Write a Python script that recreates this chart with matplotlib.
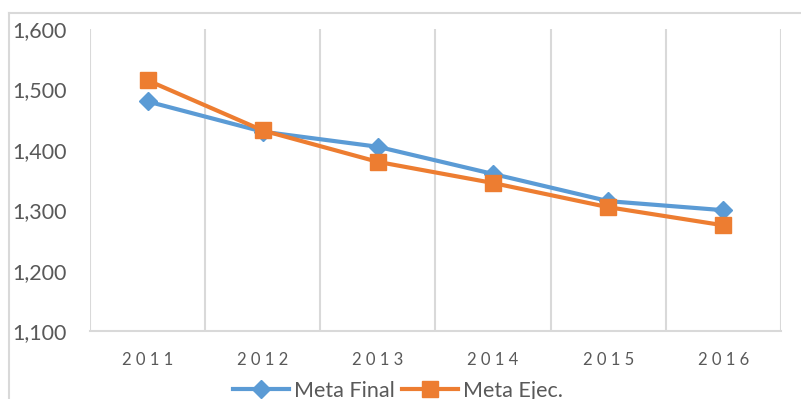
import matplotlib.pyplot as plt
from matplotlib.lines import Line2D

# Metas anuales 2011-2016
years = ["2011", "2012", "2013", "2014", "2015", "2016"]
meta_final = [1480, 1430, 1405, 1360, 1315, 1300]
meta_ejec = [1515, 1432, 1380, 1345, 1305, 1275]

BLUE = "#5B9BD5"
ORANGE = "#ED7D31"
GRID = "#D9D9D9"
TEXT = "#595959"

plt.rcParams["font.family"] = ["Lato", "DejaVu Sans"]

fig = plt.figure(figsize=(8.01, 3.99), dpi=100)
ax = fig.add_axes([90 / 801, 1 - 331 / 399, 691 / 801, 302 / 399])

x = list(range(len(years)))
ax.plot(x, meta_final, color=BLUE, lw=3, marker="D", ms=9.5,
        label="Meta Final", zorder=3)
ax.plot(x, meta_ejec, color=ORANGE, lw=3, marker="s", ms=11,
        label="Meta Ejec.", zorder=3)

ax.set_xlim(-0.5, len(years) - 0.5)
ax.set_ylim(1100, 1600)
ax.set_yticks(range(1100, 1601, 100))
ax.set_yticklabels([f"{v:,}" for v in range(1100, 1601, 100)])
ax.set_xticks(x)
ax.set_xticklabels([" ".join(y) for y in years])

# vertical gridlines on category boundaries
for b in range(1, len(years) + 1):
    ax.axvline(b - 0.5, color=GRID, lw=1.5, zorder=1)

for side in ("top", "right", "left"):
    ax.spines[side].set_visible(False)
ax.spines["bottom"].set_color(GRID)
ax.spines["bottom"].set_linewidth(1.5)
ax.axvline(-0.5, color=GRID, lw=1.5, zorder=1)

ax.tick_params(axis="y", length=0, pad=17, labelsize=15.5, labelcolor=TEXT)
ax.tick_params(axis="x", length=0, pad=15, labelsize=12, labelcolor=TEXT)

fig.legend(loc="center", bbox_to_anchor=(398 / 801, 1 - 391 / 399), ncol=2,
           frameon=False, fontsize=15.5, handlelength=2.6, handletextpad=0.25,
           columnspacing=0.3, labelcolor=TEXT)

# chart frame (left and top edges)
fig.add_artist(Line2D([9 / 801, 9 / 801], [0, 1 - 13 / 399],
                      color=GRID, lw=1.5))
fig.add_artist(Line2D([9 / 801, 1], [1 - 13 / 399, 1 - 13 / 399],
                      color=GRID, lw=1.5))

fig.savefig("out.png", dpi=100)
